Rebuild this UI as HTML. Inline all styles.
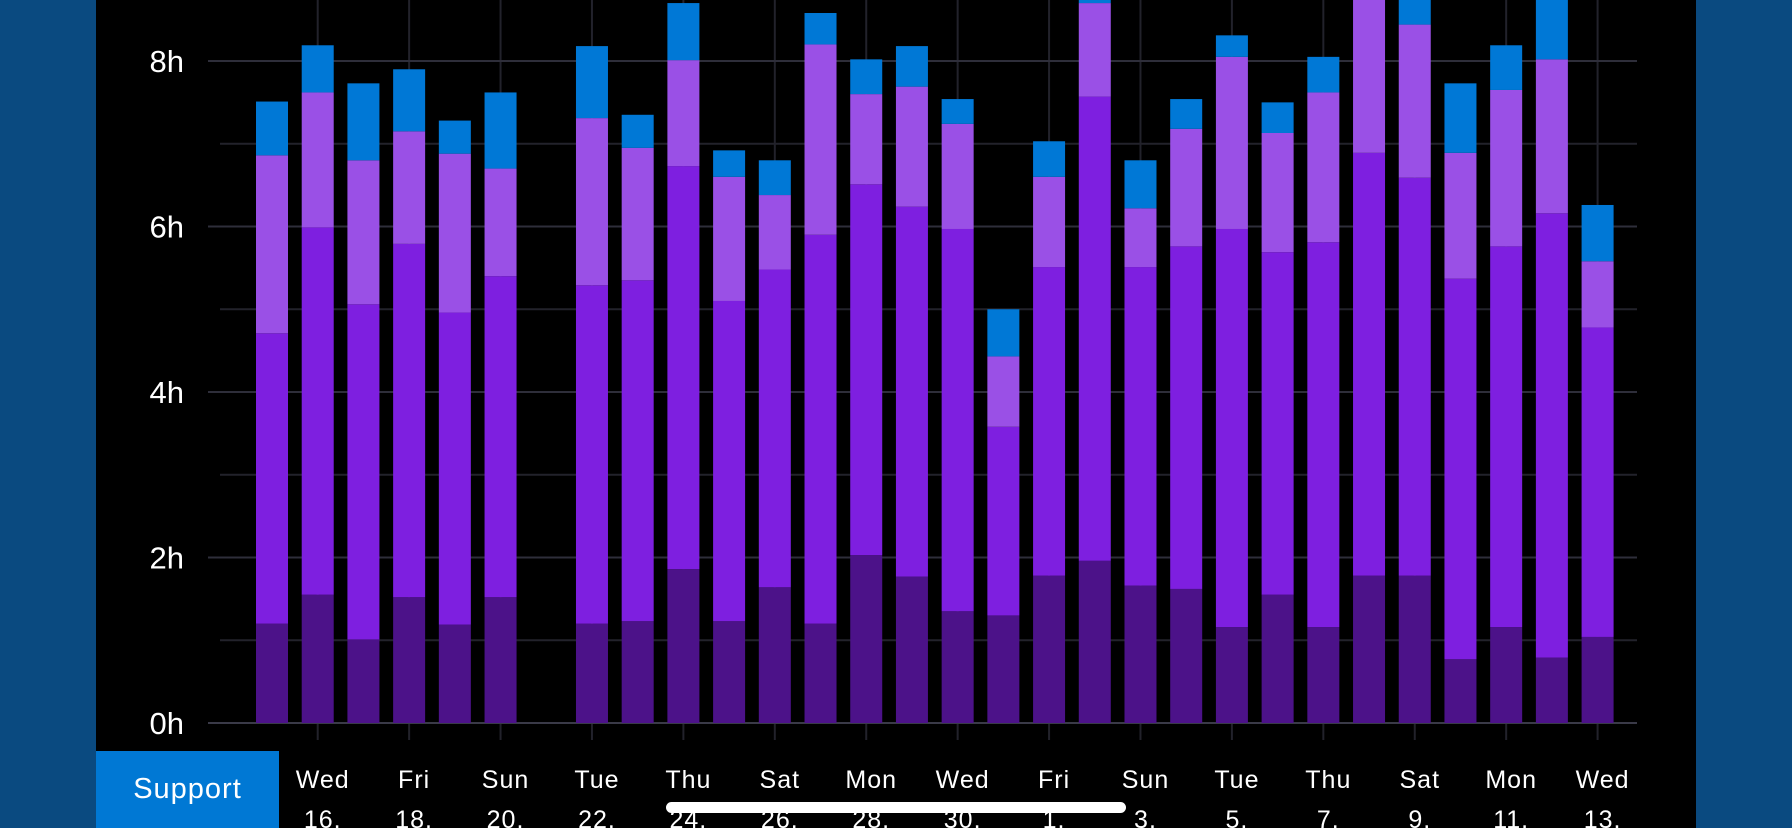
<!DOCTYPE html>
<html><head><meta charset="utf-8"><style>
body{margin:0;width:1792px;height:828px;overflow:hidden;background:#0a4a80;font-family:"Liberation Sans",sans-serif}
#panel{position:absolute;left:96px;top:0;width:1600px;height:828px;background:#000}
#support{position:absolute;left:96px;top:751px;width:183px;height:77px;background:#0078d4;color:#fff;font-size:29px;letter-spacing:1px;display:flex;align-items:center;justify-content:center}
#scroll{position:absolute;left:666px;top:802px;width:460px;height:11px;border-radius:6px;background:#fff}
svg{position:absolute;left:0;top:0}
</style></head><body>
<div id="panel"></div>
<svg id="chart" width="1792" height="828"></svg>
<div id="support">Support</div>
<div id="scroll"></div>
<script>
const dayNames=["Wed","Fri","Sun","Tue","Thu","Sat","Mon","Wed","Fri","Sun","Tue","Thu","Sat","Mon","Wed"];
const dayNums=["16.","18.","20.","22.","24.","26.","28.","30.","1.","3.","5.","7.","9.","11.","13."];
const yTicks=[0,2,4,6,8];
const seriesDark=[1.20,1.55,1.01,1.52,1.19,1.52,0,1.20,1.23,1.86,1.23,1.64,1.20,2.03,1.77,1.35,1.30,1.78,1.96,1.66,1.62,1.16,1.55,1.16,1.78,1.78,0.77,1.16,0.79,1.04];
const seriesPurple=[3.51,4.44,4.05,4.27,3.77,3.88,0,4.09,4.12,4.87,3.87,3.84,4.70,4.48,4.47,4.62,2.28,3.73,5.61,3.85,4.14,4.81,4.14,4.65,5.11,4.81,4.60,4.60,5.37,3.74];
const seriesLight=[2.15,1.63,1.74,1.36,1.92,1.30,0,2.02,1.60,1.28,1.50,0.90,2.30,1.09,1.45,1.27,0.85,1.09,1.13,0.71,1.42,2.08,1.44,1.81,2.12,1.85,1.52,1.89,1.86,0.80];
const seriesBlue=[0.65,0.57,0.93,0.75,0.40,0.92,0,0.87,0.40,0.69,0.32,0.42,0.38,0.42,0.49,0.30,0.57,0.43,0.17,0.58,0.36,0.26,0.37,0.43,0.27,0.50,0.84,0.54,0.85,0.68];
const series=[seriesDark,seriesPurple,seriesLight,seriesBlue];
const colors=["#4c1289","#7e1fe0","#9a50e6","#0078d6"];
const segNames=["segment-dark","segment-purple","segment-light","segment-blue"];
const NS="http://www.w3.org/2000/svg",svg=document.getElementById('chart');
const y=h=>723-h*82.75, x=i=>272+i*45.71;
function mk(t,a){const e=document.createElementNS(NS,t);for(const k in a)e.setAttribute(k,a[k]);svg.appendChild(e);return e;}
for(let h=1;h<=9;h+=2){const l=mk('line',{x1:220,x2:1637,y1:y(h),y2:y(h),stroke:'#22222b','stroke-width':2});
}
dayNames.forEach((d,k)=>{const i=1+2*k;const l=mk('line',{x1:x(i),x2:x(i),y1:0,y2:740,stroke:'#22222b','stroke-width':2});
});
yTicks.forEach(h=>{const l=mk('line',{x1:208,x2:1637,y1:y(h),y2:y(h),stroke:h==0?'#3a3a48':'#2e2e3a','stroke-width':2});

const t=mk('text',{x:184,y:y(h)+11,fill:'#fff','font-size':31,'text-anchor':'end'});t.textContent=h+'h';
});
for(let i=0;i<30;i++){let c=0;series.forEach((s,j)=>{const v=s[i];if(v>0){const r=mk('rect',{x:x(i)-16,y:y(c+v),width:32,height:v*82.75,fill:colors[j]});
}c+=v;});}
dayNames.forEach((d,k)=>{const i=1+2*k;const t=mk('text',{x:x(i)+5,y:788,fill:'#fff','font-size':25,'text-anchor':'middle','letter-spacing':1});t.textContent=d;

const n=mk('text',{x:x(i)+5,y:828,fill:'#fff','font-size':25,'text-anchor':'middle','letter-spacing':1});n.textContent=dayNums[k];
});
</script>
</body></html>
